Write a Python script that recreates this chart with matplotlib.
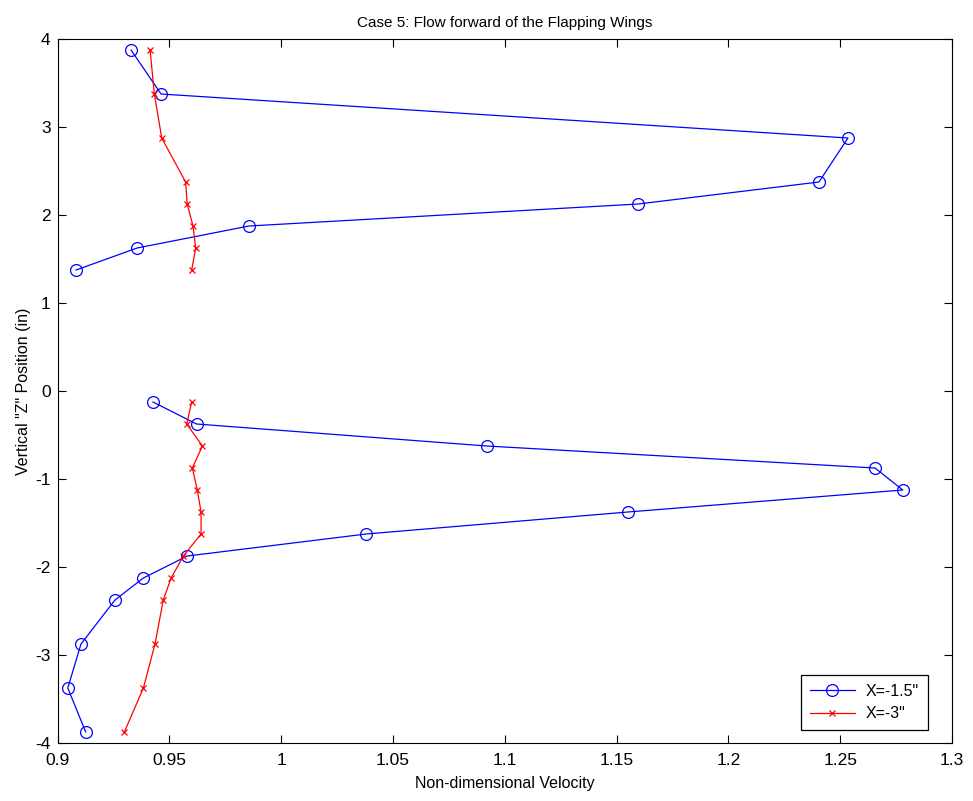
import numpy as np
import matplotlib.pyplot as plt

plt.rcParams['font.family'] = ['Liberation Sans', 'DejaVu Sans']
plt.rcParams['axes.unicode_minus'] = False

# upper wing region
z_upper = [3.875, 3.375, 2.875, 2.375, 2.125, 1.875, 1.625, 1.375]
v15_upper = [0.9329, 0.9463, 1.2535, 1.2405, 1.1596, 0.9856, 0.9356, 0.9083]
v3_upper = [0.9414, 0.9433, 0.9466, 0.9573, 0.9580, 0.9606, 0.9618, 0.9600]

# lower wing region
z_lower = [-0.125, -0.375, -0.625, -0.875, -1.125, -1.375, -1.625,
           -1.875, -2.125, -2.375, -2.875, -3.375, -3.875]
v15_lower = [0.9427, 0.9622, 1.0920, 1.2656, 1.2780, 1.1550, 1.0380,
             0.9580, 0.9384, 0.9257, 0.9105, 0.9046, 0.9126]
v3_lower = [0.9600, 0.9578, 0.9648, 0.9603, 0.9625, 0.9642, 0.9642,
            0.9563, 0.9508, 0.9473, 0.9436, 0.9384, 0.9299]

fig = plt.figure(figsize=(9.73, 8.01), dpi=100)
ax = fig.add_axes([0.0591, 0.0724, 0.9193, 0.8789])

blue = dict(color='#0000ff', marker='o', markersize=8.5, markerfacecolor='none',
            linewidth=0.9, markeredgewidth=0.9)
red = dict(color='#ff0000', marker='x', markersize=4.5, linewidth=0.9,
           markeredgewidth=0.9)

ax.plot(v15_upper, z_upper, label='X=-1.5"', **blue)
ax.plot(v3_upper, z_upper, label='X=-3"', **red)
ax.plot(v15_lower, z_lower, **blue)
ax.plot(v3_lower, z_lower, **red)

ax.set_xlim(0.9, 1.3)
ax.set_ylim(-4, 4)
ax.set_xticks(np.arange(0.9, 1.301, 0.05))
ax.set_xticklabels(['0.9', '0.95', '1', '1.05', '1.1', '1.15', '1.2', '1.25', '1.3'])
ax.set_yticks(range(-4, 5))
ax.tick_params(direction='in', top=True, right=True, length=6, labelsize=12.5)
ax.tick_params(axis='x', pad=7)
ax.tick_params(axis='y', pad=5)

ax.set_xlabel('Non-dimensional Velocity', fontsize=11.5, labelpad=6)
ax.set_ylabel('Vertical "Z" Position (in)', fontsize=11.5, labelpad=3)
ax.set_title('Case 5: Flow forward of the Flapping Wings', fontsize=11, pad=9)

leg = ax.legend(loc='lower right', bbox_to_anchor=(0.973, 0.0185), borderaxespad=0,
                fontsize=11.5, fancybox=False, framealpha=1, edgecolor='black',
                handlelength=2.8, labelspacing=0.45, borderpad=0.55,
                handletextpad=0.7)
leg.get_frame().set_linewidth(0.9)

fig.savefig('out.png', dpi=100)
